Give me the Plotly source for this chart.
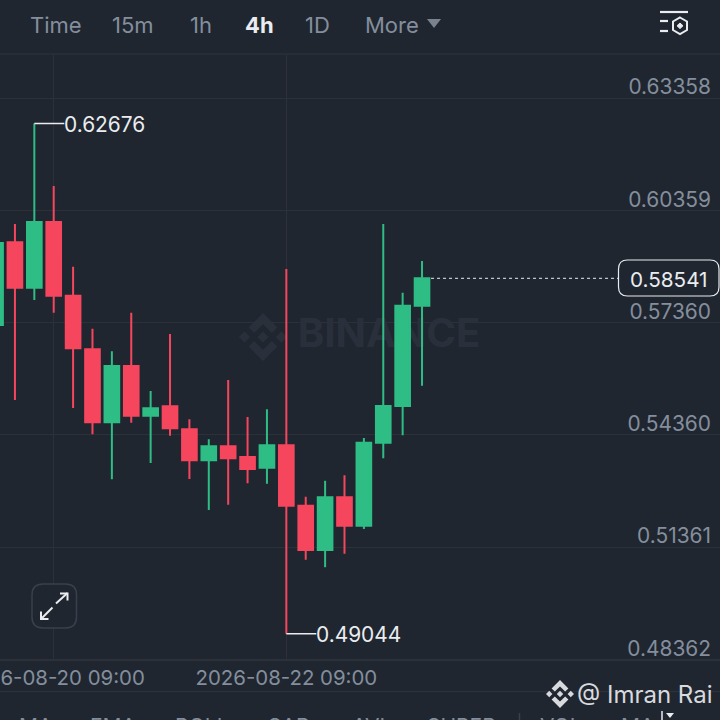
import plotly.graph_objects as go

times = ["2026-08-19 21:00","2026-08-20 01:00","2026-08-20 05:00","2026-08-20 09:00","2026-08-20 13:00","2026-08-20 17:00",
         "2026-08-20 21:00","2026-08-21 01:00","2026-08-21 05:00","2026-08-21 09:00","2026-08-21 13:00","2026-08-21 17:00",
         "2026-08-21 21:00","2026-08-22 01:00","2026-08-22 05:00","2026-08-22 09:00","2026-08-22 13:00","2026-08-22 17:00",
         "2026-08-22 21:00","2026-08-23 01:00","2026-08-23 05:00","2026-08-23 09:00","2026-08-23 13:00"]
opens  = [.57294,.59503,.58290,.60045,.58076,.56644,.54694,.56198,.54870,.55121,.54507,.53679,.54053,.53767,.53481,.54079,.52466,.51282,.52690,.51931,.54149,.55129,.57809]
closes = [.59484,.58290,.60045,.58076,.56671,.54694,.56198,.54870,.55068,.54534,.53679,.54053,.53732,.53446,.54079,.52466,.51282,.52690,.51931,.54149,.55129,.57809,.58541]
highs  = [.59564,.59992,.62676,.61007,.58851,.57195,.56591,.57622,.55530,.57053,.54774,.54240,.55824,.54836,.55041,.58790,.52706,.53134,.53278,.54274,.59992,.58156,.59003]
lows   = [.57160,.55290,.57961,.57622,.55076,.54373,.53171,.54683,.53607,.54336,.53179,.52351,.52492,.53064,.53054,.49044,.51023,.50820,.51183,.51843,.53732,.54347,.55672]

price_ticks = [0.48362, 0.51361, 0.54360, 0.57360, 0.60359, 0.63358]
price_labels = ["0.48362", "0.51361", "0.54360", "0.57360", "0.60359", "0.63358"]
date_ticks = ["2026-08-20 09:00", "2026-08-22 09:00"]
date_labels = ["2026-08-20 09:00", "2026-08-22 09:00"]
menu_items = [("Time", 28), ("15m", 110), ("1h", 188), ("1D", 303), ("More", 363)]
indicators = [("MA", 17), ("EMA", 88), ("BOLL", 173), ("SAR", 266), ("AVL", 350), ("SUPER", 425), ("VOL", 538), ("MA", 619)]
last_price = 0.58541
peak_label = "0.62676"
trough_label = "0.49044"
peak_time = times[2]
trough_time = times[15]
peak_price = 0.62676
trough_price = 0.49044

BG = "#1f2630"
GRID = "#2b3039"
GREEN = "#2ebd85"
RED = "#f6465d"
MUTED = "#848e9c"
WHITE = "#eaecef"
FONT = "Inter"
W = H = 720
PLOT_TOP, PLOT_BOTTOM = 55, 659.3
xrange_ = ["2026-08-19 21:55", "2026-08-26 02:29"]
yrange_ = [0.48362, 0.64507]


def X(x):
    return x / W


def Y(y):
    return 1 - y / H


def path(points, close=True):
    s = "M" + " L".join(f"{X(a):.5f},{Y(b):.5f}" for a, b in points)
    return s + (" Z" if close else "")


def rounded(x0, y0, x1, y1, r):
    return (f"M{X(x0+r):.5f},{Y(y0):.5f} L{X(x1-r):.5f},{Y(y0):.5f} Q{X(x1):.5f},{Y(y0):.5f} {X(x1):.5f},{Y(y0+r):.5f} "
            f"L{X(x1):.5f},{Y(y1-r):.5f} Q{X(x1):.5f},{Y(y1):.5f} {X(x1-r):.5f},{Y(y1):.5f} "
            f"L{X(x0+r):.5f},{Y(y1):.5f} Q{X(x0):.5f},{Y(y1):.5f} {X(x0):.5f},{Y(y1-r):.5f} "
            f"L{X(x0):.5f},{Y(y0+r):.5f} Q{X(x0):.5f},{Y(y0):.5f} {X(x0+r):.5f},{Y(y0):.5f} Z")


def chrome_line(pts, color, width=2, layer="above", close=False, fill=None):
    d = dict(type="path", path=path(pts, close), xref="paper", yref="paper", layer=layer,
             line=dict(color=color, width=width))
    if fill:
        d["fillcolor"] = fill
    return d


def logo(cx, cy, s, color, layer):
    polys = [
        [(0, -1), (.6, -.4), (.37, -.17), (0, -.53), (-.37, -.17), (-.6, -.4)],
        [(0, 1), (.6, .4), (.37, .17), (0, .53), (-.37, .17), (-.6, .4)],
        [(0, -.23), (.23, 0), (0, .23), (-.23, 0)],
        [(-.77, -.23), (-.54, 0), (-.77, .23), (-1, 0)],
        [(.77, -.23), (1, 0), (.77, .23), (.54, 0)],
    ]
    return [dict(type="path", xref="paper", yref="paper", layer=layer, fillcolor=color,
                 line=dict(width=0),
                 path=path([(cx + a * s, cy + b * s) for a, b in p])) for p in polys]


fig = go.Figure()
fig.add_trace(go.Scatter(x=["2026-08-23 06:11"], y=[0.56973], mode="text", text=["BINANCE"],
                         textfont=dict(family=FONT, size=40, color="#2a303b", weight=700),
                         hoverinfo="skip", showlegend=False, xaxis="x", yaxis="y"))
fig.add_trace(go.Candlestick(
    x=times, open=opens, high=highs, low=lows, close=closes,
    increasing=dict(line=dict(color=GREEN, width=2), fillcolor=GREEN),
    decreasing=dict(line=dict(color=RED, width=2), fillcolor=RED),
    whiskerwidth=0, showlegend=False, hoverinfo="skip", xaxis="x2", yaxis="y2"))

shapes = []
shapes.append(chrome_line([(0, 54), (W, 54)], GRID, 1.5))
shapes.append(chrome_line([(0, 691.5), (W, 691.5)], GRID, 1.5))
shapes += logo(263, 337, 24, "#2a303b", "below")
shapes.append(dict(type="line", xref="x2", yref="y2", xsizemode="pixel", xanchor=peak_time,
                   x0=0, x1=30, y0=peak_price, y1=peak_price, line=dict(color=WHITE, width=1.5)))
shapes.append(dict(type="line", xref="x2", yref="y2", xsizemode="pixel", xanchor=trough_time,
                   x0=0, x1=30, y0=trough_price, y1=trough_price, line=dict(color=WHITE, width=1.5)))
shapes.append(dict(type="line", xref="x2", yref="y2", xsizemode="pixel", xanchor=times[-1],
                   x0=9, x1=196, y0=last_price, y1=last_price,
                   line=dict(color=WHITE, width=1, dash="3px,3px")))
shapes.append(dict(type="path", xref="paper", yref="paper", path=rounded(618.5, 260, 719, 296, 9),
                   fillcolor=BG, line=dict(color=WHITE, width=1.2)))
shapes.append(dict(type="path", xref="paper", yref="paper", path=rounded(32, 584, 76.5, 628, 11),
                   fillcolor=BG, line=dict(color="#3a404b", width=1.5)))
shapes.append(chrome_line([(56, 603.5), (67.5, 593)], WHITE, 2))
shapes.append(chrome_line([(60, 593.5), (67.5, 593.5), (67.5, 600.5)], WHITE, 2))
shapes.append(chrome_line([(52.5, 607.5), (41, 619)], WHITE, 2))
shapes.append(chrome_line([(41, 611.5), (41, 619), (48.5, 619)], WHITE, 2))
shapes.append(chrome_line([(427, 19), (441, 19), (434, 28)], "#7a828e", 0, close=True, fill="#7a828e"))
shapes.append(chrome_line([(660, 12), (688, 12)], WHITE, 2.2))
shapes.append(chrome_line([(660, 21), (668, 21)], WHITE, 2.2))
shapes.append(chrome_line([(660, 31), (668, 31)], WHITE, 2.2))
shapes.append(chrome_line([(680, 17.5), (687, 21.5), (687, 30), (680, 34), (673, 30), (673, 21.5)], WHITE, 2, close=True))
shapes.append(chrome_line([(680, 23), (683, 25.8), (680, 28.6), (677, 25.8)], WHITE, 1, close=True, fill=WHITE))
shapes.append(chrome_line([(519.5, 713), (519.5, 720)], "#3a404b", 1.5))
shapes.append(chrome_line([(662, 711), (662, 720)], WHITE, 1.5))
shapes.append(chrome_line([(666, 713), (674, 713), (670, 718)], WHITE, 0, close=True, fill=WHITE))
shapes += logo(560, 694, 14, "#d8dade", "above")


def note(text, x, y, color=MUTED, size=22, anchor="left", weight=400):
    return dict(text=text, xref="paper", yref="paper", x=X(x), y=Y(y), xanchor=anchor, yanchor="middle",
                showarrow=False, font=dict(family=FONT, size=size, color=color, weight=weight))


annotations = [note(t, x, 25) for t, x in menu_items]
annotations.append(note("4h", 243, 25, "#eaecef", 22, weight=700))
annotations += [note(t, x, 726, MUTED, 21) for t, x in indicators]
annotations.append(note("@ Imran Rai", 575, 694, "#d8dade", 24))
annotations.append(note("0.58541", 669, 279.5, WHITE, 20.7, "center"))
annotations.append(dict(text=peak_label, xref="x2", yref="y2", x=peak_time, y=peak_price, xanchor="left", yanchor="middle",
                        xshift=28, yshift=-1, showarrow=False, font=dict(family=FONT, size=20.9, color=WHITE)))
annotations.append(dict(text=trough_label, xref="x2", yref="y2", x=trough_time, y=trough_price, xanchor="left", yanchor="middle",
                        xshift=28, yshift=-1, showarrow=False, font=dict(family=FONT, size=20.9, color=WHITE)))

domain_y = [1 - PLOT_BOTTOM / H, 1 - PLOT_TOP / H]
fig.update_layout(
    width=W, height=H, autosize=False,
    margin=dict(l=0, r=0, t=0, b=0, pad=0, autoexpand=False),
    paper_bgcolor=BG, plot_bgcolor=BG,
    showlegend=False, boxgap=0.1, boxgroupgap=0.16,
    shapes=shapes, annotations=annotations,
    xaxis=dict(type="date", range=xrange_, domain=[0, 1], tickmode="array", tickvals=date_ticks, ticktext=date_labels,
               showgrid=True, gridcolor=GRID, gridwidth=1.2, zeroline=False, showline=True, linecolor=GRID, linewidth=1.5,
               ticks="", ticklabelstandoff=-1, ticklabeloverflow="allow", automargin=False,
               tickfont=dict(family=FONT, size=20.4, color=MUTED), fixedrange=True),
    yaxis=dict(range=yrange_, domain=domain_y, side="right", tickmode="array", tickvals=price_ticks, ticktext=price_labels,
               showgrid=True, gridcolor=GRID, gridwidth=1.2, zeroline=False, showline=False,
               ticks="", ticklabelposition="inside", ticklabelshift=-11, ticklabelstandoff=6, automargin=False,
               ticklabeloverflow="allow",
               tickfont=dict(family=FONT, size=20.9, color=MUTED), fixedrange=True),
    xaxis2=dict(type="date", range=xrange_, overlaying="x", visible=False, rangeslider=dict(visible=False), fixedrange=True),
    yaxis2=dict(range=yrange_, overlaying="y", side="right", visible=False, fixedrange=True),
)
fig.write_html("out.html", config=dict(displayModeBar=False),
               post_script="document.body.style.margin='0';document.documentElement.style.background='#1f2630';")
